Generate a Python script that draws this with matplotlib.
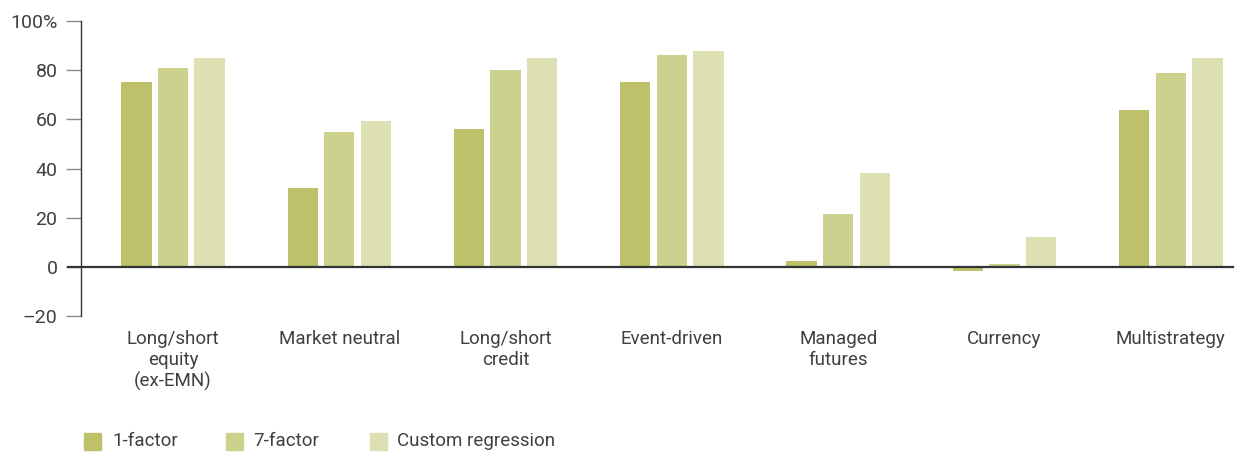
import matplotlib
matplotlib.use("Agg")
import matplotlib.pyplot as plt
from matplotlib.patches import Rectangle
import numpy as np

plt.rcParams['font.family'] = ['Roboto', 'DejaVu Sans']

categories = ["Long/short\nequity\n(ex-EMN)", "Market neutral", "Long/short\ncredit",
              "Event-driven", "Managed\nfutures", "Currency", "Multistrategy"]
series_names = ["1-factor", "7-factor", "Custom regression"]
one_factor = [75, 32, 56, 75, 2.5, -1.5, 64]
seven_factor = [81, 55, 80, 86, 21.5, 1, 79]
custom_regression = [85, 59.5, 85, 88, 38, 12, 85]
y_ticks = [-20, 0, 20, 40, 60, 80, 100]
y_labels = ["\u201320", "0", "20", "40", "60", "80", "100%"]

colors = ["#bdc16a", "#ccd18e", "#dde0b3"]
text_color = "#404040"
fs = 13.5

W, H = 1241, 455
fig = plt.figure(figsize=(W / 100, H / 100), dpi=100)
ax = fig.add_axes([81 / W, 1 - 316 / H, (1233 - 81) / W, (316 - 21) / H])

x = np.arange(len(categories))
bar_w = 0.182
step = 0.22
for i, vals in enumerate([one_factor, seven_factor, custom_regression]):
    ax.bar(x + (i - 1) * step, vals, width=bar_w, color=colors[i], zorder=2)

ax.set_xlim(-0.553, 6.374)
ax.set_ylim(-20, 100)

for s in ["top", "right", "bottom"]:
    ax.spines[s].set_visible(False)
ax.spines["left"].set_color("#333333")
ax.spines["left"].set_linewidth(1.0)

ax.set_yticks(y_ticks)
ax.set_yticklabels(y_labels)
ax.tick_params(axis="y", length=11, width=1.0, color="#8a8a8a", pad=6,
               labelsize=fs + 0.5, labelcolor=text_color)

ax.set_xticks(x)
ax.set_xticklabels(categories, linespacing=1.2)
ax.tick_params(axis="x", length=0, pad=10, labelsize=fs, labelcolor=text_color)

# zero line runs a little past the left spine
ax.plot([-0.011, 1], [0, 0], transform=ax.get_yaxis_transform(), color="#333333",
        lw=1.6, clip_on=False, zorder=3)

# legend
legend_boxes = [84, 226, 370]
legend_texts = [112, 253, 397]
for name, c, bx, tx in zip(series_names, colors, legend_boxes, legend_texts):
    fig.patches.append(Rectangle((bx / W, 1 - 450 / H), 17 / W, 17 / H,
                                 transform=fig.transFigure, color=c))
    fig.text(tx / W, 1 - 441 / H, name, fontsize=fs, color=text_color, va="center")

fig.savefig("out.png", dpi=100)
